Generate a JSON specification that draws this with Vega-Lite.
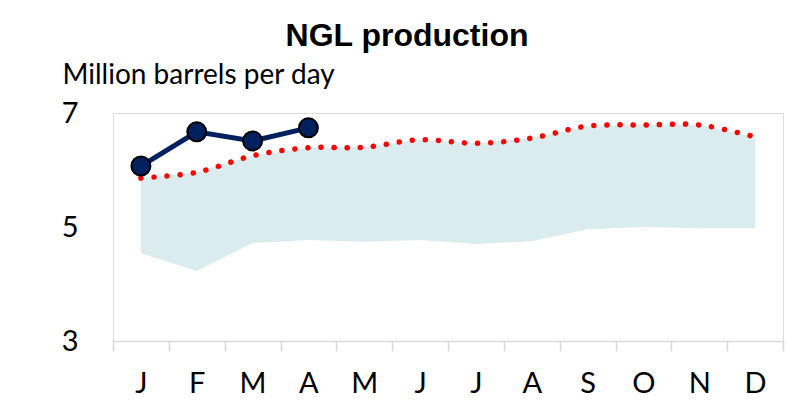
{
  "$schema": "https://vega.github.io/schema/vega-lite/v6.json",
  "width": 670,
  "height": 228,
  "autosize": {"type": "none"},
  "padding": {"left": 113, "top": 113, "right": 4, "bottom": 71},
  "background": "white",
  "title": {
    "text": "NGL production",
    "font": "Liberation Sans",
    "fontWeight": "bold",
    "fontSize": 32,
    "color": "#000000",
    "anchor": "middle",
    "frame": "group",
    "dx": -41,
    "offset": 8
  },
  "data": {
    "values": [
      {"month": "Jan", "low": 4.54, "high": 5.86, "avg": 5.86, "actual": 6.07},
      {"month": "Feb", "low": 4.23, "high": 5.96, "avg": 5.96, "actual": 6.67},
      {"month": "Mar", "low": 4.72, "high": 6.25, "avg": 6.25, "actual": 6.51},
      {"month": "Apr", "low": 4.77, "high": 6.39, "avg": 6.39, "actual": 6.74},
      {"month": "May", "low": 4.74, "high": 6.40, "avg": 6.40, "actual": null},
      {"month": "Jun", "low": 4.77, "high": 6.53, "avg": 6.53, "actual": null},
      {"month": "Jul", "low": 4.70, "high": 6.47, "avg": 6.47, "actual": null},
      {"month": "Aug", "low": 4.75, "high": 6.56, "avg": 6.56, "actual": null},
      {"month": "Sep", "low": 4.96, "high": 6.77, "avg": 6.77, "actual": null},
      {"month": "Oct", "low": 5.00, "high": 6.79, "avg": 6.79, "actual": null},
      {"month": "Nov", "low": 4.98, "high": 6.79, "avg": 6.79, "actual": null},
      {"month": "Dec", "low": 4.98, "high": 6.58, "avg": 6.58, "actual": null}
    ]
  },
  "encoding": {
    "x": {
      "field": "month",
      "type": "nominal",
      "sort": null,
      "scale": {"paddingInner": 0, "paddingOuter": 0},
      "axis": {
        "title": null,
        "labelAngle": 0,
        "labelExpr": "substring(datum.label, 0, 1)",
        "labelFont": "Lato",
        "labelFontSize": 29,
        "labelColor": "#000000",
        "labelPadding": 18,
        "tickBand": "extent",
        "tickSize": 10,
        "tickColor": "#D9D9D9",
        "tickWidth": 1.5,
        "domainColor": "#D9D9D9",
        "domainWidth": 1.5,
        "grid": false
      }
    }
  },
  "layer": [
    {
      "mark": {"type": "area", "color": "#DAECEE", "opacity": 1},
      "encoding": {
        "y": {
          "field": "low",
          "type": "quantitative",
          "scale": {"domain": [3, 7], "nice": false, "zero": false},
          "axis": {
            "values": [3, 5, 7],
            "format": "d",
            "title": "Million barrels per day",
            "titleFont": "Lato",
            "titleFontSize": 28,
            "titleFontWeight": "normal",
            "titleColor": "#000000",
            "titleAngle": 0,
            "titleAlign": "left",
            "titleBaseline": "alphabetic",
            "titleX": -51,
            "titleY": -30,
            "labelFont": "Lato",
            "labelFontSize": 29,
            "labelColor": "#000000",
            "labelPadding": 35,
            "tickSize": 0,
            "domain": false,
            "grid": false,
            "ticks": false
          }
        },
        "y2": {"field": "high"}
      }
    },
    {
      "mark": {
        "type": "line",
        "color": "#FF0000",
        "strokeWidth": 5.5,
        "strokeDash": [0.1, 13],
        "strokeCap": "round",
        "interpolate": "catmull-rom"
      },
      "encoding": {
        "y": {"field": "avg", "type": "quantitative"}
      }
    },
    {
      "transform": [{"filter": "datum.actual != null"}],
      "mark": {"type": "line", "color": "#002060", "strokeWidth": 5},
      "encoding": {
        "y": {"field": "actual", "type": "quantitative"}
      }
    },
    {
      "transform": [{"filter": "datum.actual != null"}],
      "mark": {
        "type": "point",
        "shape": "circle",
        "filled": true,
        "fill": "#002060",
        "stroke": "#000000",
        "strokeWidth": 2,
        "size": 360,
        "opacity": 1
      },
      "encoding": {
        "y": {"field": "actual", "type": "quantitative"}
      }
    }
  ]
}
